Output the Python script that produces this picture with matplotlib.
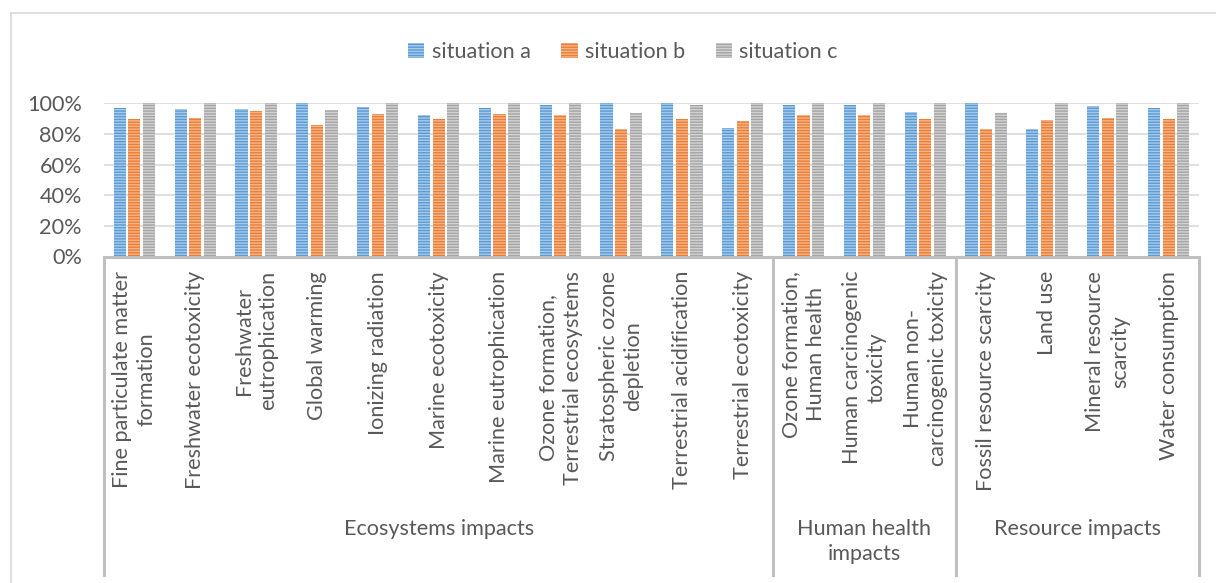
import matplotlib
matplotlib.use("Agg")
import matplotlib.pyplot as plt
import matplotlib.transforms as mtransforms
from matplotlib.patches import Patch
from matplotlib.lines import Line2D
from matplotlib.ticker import PercentFormatter
import numpy as np

# ---------------- data ----------------
categories = [
    "Fine particulate matter\nformation",
    "Freshwater ecotoxicity",
    "Freshwater\neutrophication",
    "Global warming",
    "Ionizing radiation",
    "Marine ecotoxicity",
    "Marine eutrophication",
    "Ozone formation,\nTerrestrial ecosystems",
    "Stratospheric ozone\ndepletion",
    "Terrestrial acidification",
    "Terrestrial ecotoxicity",
    "Ozone formation,\nHuman health",
    "Human carcinogenic\ntoxicity",
    "Human non-\ncarcinogenic toxicity",
    "Fossil resource scarcity",
    "Land use",
    "Mineral resource\nscarcity",
    "Water consumption",
]
groups = ["Ecosystems impacts", "Human health\nimpacts", "Resource impacts"]
group_sizes = [11, 3, 4]

series_names = ["situation a", "situation b", "situation c"]
situation_a = [0.972, 0.965, 0.965, 1.000, 0.976, 0.923, 0.969, 0.989, 1.000, 1.000, 0.840,
               0.991, 0.991, 0.945, 1.000, 0.832, 0.985, 0.972]
situation_b = [0.897, 0.902, 0.947, 0.856, 0.930, 0.895, 0.932, 0.921, 0.834, 0.895, 0.882,
               0.921, 0.921, 0.895, 0.834, 0.891, 0.906, 0.897]
situation_c = [1.000, 1.000, 1.000, 0.958, 1.000, 1.000, 1.000, 1.000, 0.934, 0.987, 1.000,
               1.000, 1.000, 1.000, 0.937, 1.000, 1.000, 1.000]
yticks = [0, 0.2, 0.4, 0.6, 0.8, 1.0]

# ---------------- style ----------------
W, H = 1216, 583
FONT = ["Lato", "DejaVu Sans"]
plt.rcParams["font.family"] = FONT
plt.rcParams["hatch.linewidth"] = 1.0
TXT = "#595959"
face_colors = ["#5B9BD5", "#ED7D31", "#A5A5A5"]
hatch_colors = ["#A8CAEA", "#F5B58E", "#D2D2D2"]
AXC = "#BFBFBF"
GRIDC = "#D9D9D9"
FS = 15.6

fig = plt.figure(figsize=(W / 100, H / 100), dpi=100)

def fx(px):
    return px / W

def fy(py):
    return 1 - py / H

left_px, right_px = 104, 1199
top_px, base_px = 103.3, 256.5
ax = fig.add_axes([fx(left_px), fy(base_px), fx(right_px - left_px), (base_px - top_px) / H])

n = len(categories)
x = np.arange(n)
step, bw = 0.24, 0.2
data = [situation_a, situation_b, situation_c]
for i, vals in enumerate(data):
    ax.bar(x + (i - 1) * step, vals, width=bw, color=face_colors[i],
           edgecolor=hatch_colors[i], linewidth=0, hatch="------", zorder=3)

ax.set_xlim(-0.5, n - 0.5)
ax.set_ylim(0, 1)
ax.set_yticks(yticks)
ax.yaxis.set_major_formatter(PercentFormatter(1.0, decimals=0))
ax.tick_params(axis="y", length=0, pad=16, labelsize=FS, labelcolor=TXT)
ax.set_xticks([])
ax.grid(axis="y", color=GRIDC, linewidth=1.2, zorder=0)
for s in ["left", "right", "top"]:
    ax.spines[s].set_visible(False)
ax.spines["bottom"].set_color(AXC)
ax.spines["bottom"].set_linewidth(2.2)
ax.spines["bottom"].set_zorder(4)

# category labels
trans = mtransforms.blended_transform_factory(ax.transData, fig.transFigure)
for xi, lab in zip(x, categories):
    ax.text(xi, fy(271), lab, transform=trans, rotation=90, ha="center", va="top",
            multialignment="center", fontsize=FS, color=TXT, linespacing=1.3,
            clip_on=False)

# group separators and labels
bounds = np.concatenate([[0], np.cumsum(group_sizes)]) - 0.5
for b in bounds:
    ax.add_line(Line2D([b, b], [fy(257), fy(575)], transform=trans, color=AXC,
                       linewidth=2.2, clip_on=False, zorder=4))
for gi, g in enumerate(groups):
    cx = (bounds[gi] + bounds[gi + 1]) / 2
    ax.text(cx, fy(519), g, transform=trans, ha="center", va="top",
            multialignment="center", fontsize=FS, color=TXT, linespacing=1.3,
            clip_on=False)

# outer chart frame
fig.add_artist(Line2D([fx(11), 1.0], [fy(13), fy(13)], transform=fig.transFigure,
                      color=GRIDC, linewidth=1.2))
fig.add_artist(Line2D([fx(11), fx(11)], [fy(13), 0.0], transform=fig.transFigure,
                      color=GRIDC, linewidth=1.2))

# legend
handles = [Patch(facecolor=face_colors[i], edgecolor=hatch_colors[i], linewidth=0,
                 hatch="------", label=series_names[i]) for i in range(3)]
leg = fig.legend(handles=handles, loc="center", bbox_to_anchor=(fx(623), fy(52)),
                 ncol=3, frameon=False, fontsize=FS, handlelength=0.75,
                 handleheight=0.75, handletextpad=0.35, columnspacing=1.4)
for t in leg.get_texts():
    t.set_color(TXT)

fig.savefig("out.png", dpi=100)
